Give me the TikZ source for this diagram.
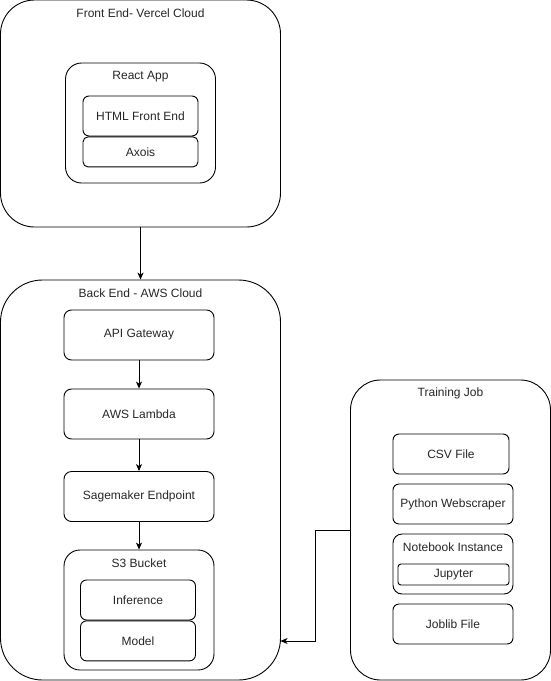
\documentclass[tikz,border=0pt]{standalone}
\usepackage{fontspec}
\setmainfont{Liberation Sans}
\usetikzlibrary{positioning,arrows.meta}

\begin{document}
\begin{tikzpicture}[x=1pt,y=-1pt,line width=0.9pt,
	every node/.style={font=\fontsize{12}{14}\selectfont,text=black!85},
	rbox/.style n args={3}{draw,inner sep=0,minimum width=#1,minimum height=#2,rounded corners=#3},
	ttl/.style={inner sep=0},
	arr/.style={-{Stealth[length=7pt,width=6pt,inset=2pt]}}]
	\useasboundingbox (0,0) rectangle (551,681);
	% Front end
	\node[rbox={280pt}{227pt}{34pt}] (fe) at (140.5,113.5) {};
	\node[ttl] (fetitle) at ([yshift=-14pt]fe.north) {Front End- Vercel Cloud};
	\node[rbox={150pt}{120pt}{16pt}] (react) at (140.5,123) {};
	\node[ttl] (reacttitle) at ([yshift=-14pt]react.north) {React App};
	\node[rbox={115pt}{40pt}{6pt}] (html) at (140.5,116) {HTML Front End};
	\node[rbox={115pt}{30pt}{5pt},below=0pt of html] (axois) {Axois};
	% Back end
	\node[rbox={280pt}{400pt}{42pt}] (be) at (140.5,480) {};
	\node[ttl] (betitle) at ([yshift=-14pt]be.north) {Back End - AWS Cloud};
	\node[rbox={150pt}{50pt}{7.5pt}] (api) at (139,335) {API Gateway};
	\node[rbox={150pt}{50pt}{7.5pt}] (lambda) at (139,414) {AWS Lambda};
	\node[rbox={150pt}{50pt}{7.5pt}] (sage) at (139,496.5) {Sagemaker Endpoint};
	\node[rbox={150pt}{120pt}{16pt}] (s3) at (139,610) {};
	\node[ttl] (s3title) at ([yshift=-14pt]s3.north) {S3 Bucket};
	\node[rbox={115pt}{40pt}{6pt}] (infer) at (138,600) {Inference};
	\node[rbox={115pt}{40pt}{6pt},below=0pt of infer] (model) {Model};
	% Training job
	\node[rbox={200pt}{300pt}{30pt}] (tj) at (450.5,530) {};
	\node[ttl] (tjtitle) at ([yshift=-14pt]tj.north) {Training Job};
	\node[rbox={116pt}{40pt}{6pt}] (csv) at (451,454) {CSV File};
	\node[rbox={120pt}{40pt}{6pt}] (scraper) at (453,504) {Python Webscraper};
	\node[rbox={120pt}{60pt}{9pt}] (notebook) at (453,564) {};
	\node[ttl] (nbtitle) at ([yshift=-14pt]notebook.north) {Notebook Instance};
	\node[rbox={111pt}{21pt}{3pt}] (jupyter) at (453.5,574.5) {Jupyter};
	\node[rbox={120pt}{40pt}{6pt}] (joblib) at (453,624) {Joblib File};
	% Connectors
	\draw[arr] (fe) -- (be);
	\draw[arr] (api) -- (lambda);
	\draw[arr] (lambda) -- (sage);
	\draw[arr] (sage) -- (s3);
	\coordinate (bein) at (280.5,641);
	\draw[arr] (tj.west) -- ++(-35,0) |- (bein);
\end{tikzpicture}
\end{document}
